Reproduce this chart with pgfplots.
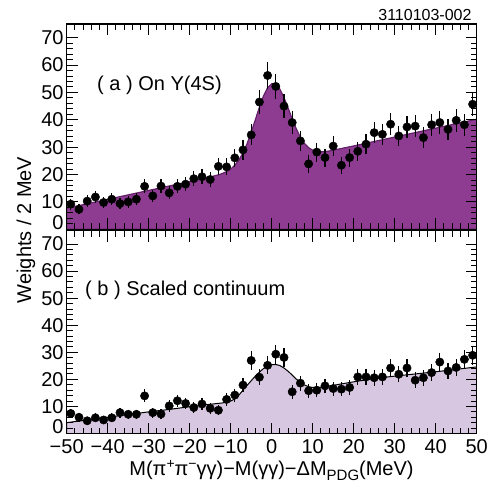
\documentclass[border=0pt]{standalone}
\usepackage{fontspec}
\setmainfont{Liberation Sans}
\usepackage{pgfplots}
\pgfplotsset{compat=1.18}
\usepackage{pgfplotstable}
\definecolor{topfill}{RGB}{142,60,145}
\definecolor{topline}{RGB}{100,32,105}
\definecolor{botfill}{RGB}{216,199,225}

\pgfplotstableread{
x y e
-49 9.2 2.0
-47 7.3 1.8
-45 10.3 2.1
-43 11.8 2.2
-41 9.8 2.0
-39 11.0 2.2
-37 9.4 2.0
-35 10.0 2.1
-33 11.0 2.2
-31 15.7 2.6
-29 12.2 2.3
-27 15.8 2.6
-25 13.3 2.4
-23 15.7 2.6
-21 16.5 2.6
-19 18.5 2.8
-17 19.2 2.8
-15 18.2 2.8
-13 23.0 3.1
-11 22.8 3.1
-9 26.1 3.3
-7 29.0 3.5
-5 34.5 3.8
-3 46.5 4.4
-1 56.2 4.9
1 52.2 4.7
3 45.0 4.4
5 39.0 4.1
7 32.3 3.7
9 23.9 3.2
11 28.2 3.5
13 26.2 3.3
15 30.4 3.6
17 23.4 3.1
19 26.2 3.3
21 28.5 3.5
23 31.1 3.6
25 35.3 3.9
27 34.7 3.8
29 38.4 4.0
31 34.1 3.8
33 37.4 4.0
35 37.7 4.0
37 33.5 3.8
39 38.2 4.0
41 39.0 4.1
43 36.5 3.9
45 39.8 4.1
47 38.2 4.0
49 45.7 4.4
}\topdata

\pgfplotstableread{
x y
-50 7.7
-40 10.95
-30 14.2
-20 17.45
-14 19.5
-13 19.9
-12 20.4
-11 21.1
-10 22.0
-9 23.4
-8 25.3
-7 27.9
-6 31.3
-5 35.4
-4 40.0
-3 44.6
-2 48.7
-1 51.7
0 53.2
1 53.0
2 51.2
3 48.1
4 44.3
5 40.3
6 36.7
7 33.6
8 31.4
9 29.8
10 28.9
11 28.4
12 28.3
13 28.4
14 28.6
20 30.45
30 33.7
40 36.95
50 40.2
}\topfit

\pgfplotstableread{
x y e
-49 7.4 1.8
-47 6.0 1.6
-45 4.7 1.4
-43 5.8 1.6
-41 5.0 1.5
-39 5.8 1.6
-37 7.7 1.8
-35 7.1 1.7
-33 7.1 1.7
-31 13.9 2.4
-29 7.7 1.8
-27 7.2 1.7
-25 10.2 2.1
-23 12.1 2.3
-21 11.1 2.2
-19 9.6 2.0
-17 10.9 2.1
-15 9.3 2.0
-13 8.6 1.9
-11 12.6 2.3
-9 14.2 2.4
-7 17.9 2.7
-5 27.0 3.4
-3 20.8 3.0
-1 25.2 3.3
1 29.3 3.5
3 28.1 3.4
5 15.4 2.6
7 18.6 2.8
9 15.8 2.6
11 16.0 2.6
13 17.6 2.7
15 16.6 2.6
17 16.4 2.6
19 17.0 2.7
21 20.9 3.0
23 20.9 3.0
25 20.6 3.0
27 20.9 3.0
29 24.2 3.2
31 21.9 3.0
33 24.2 3.2
35 19.7 2.9
37 20.6 3.0
39 22.5 3.1
41 26.4 3.3
43 23.1 3.1
45 24.4 3.2
47 27.4 3.4
49 28.9 3.5
}\botdata

\pgfplotstableread{
x y
-50 4.0
-45 5.0
-40 6.0
-35 7.0
-30 8.0
-25 8.9
-20 9.9
-15 10.8
-12 11.3
-11 11.6
-10 12.0
-9 12.8
-8 14.2
-7 16.0
-6 17.8
-5 19.5
-4 21.2
-3 22.7
-2 24.0
-1 24.9
0 25.4
1 25.5
2 25.1
3 24.2
4 23.0
5 21.6
6 20.1
7 18.9
8 17.9
9 17.3
10 17.0
11 17.0
12 17.1
13 17.3
15 17.8
20 19.1
25 20.3
30 21.2
35 22.0
40 22.8
45 23.7
50 24.6
}\botfit

\pgfplotsset{
  panel/.style={
    scale only axis, width=410pt,
    xmin=-50, xmax=50, ymin=0, ymax=75,
    xtick={-50,-40,...,50}, minor x tick num=4,
    ytick={0,10,...,70}, minor y tick num=4,
    yticklabels={,10,20,30,40,50,60,70},
    major tick length=11pt, minor tick length=6pt, tick align=inside,
    axis line style={line width=1.3pt},
    every tick/.append style={line width=1pt, black},
    tick label style={font=\fontsize{20}{24}\selectfont},
    yticklabel style={inner sep=3pt},
    xticklabel style={inner sep=3pt, yshift=-3pt},
    axis on top,
  },
  pts/.style={only marks, mark=*, mark size=4.2pt, black,
    error bars/.cd, y dir=both, y explicit, error mark=none,
    error bar style={line width=1.3pt, black}},
}

\begin{document}
\begin{tikzpicture}
\path[use as bounding box] (0pt,0pt) rectangle (495pt,-485pt);

\begin{axis}[panel, at={(66.7pt,-229.3pt)}, anchor=south west, height=205.3pt,
  xticklabels={}]
  \addplot[fill=topfill, draw=topline, line width=1.2pt] table[x=x,y=y]{\topfit} \closedcycle;
  \addplot[pts] table[x=x,y=y,y error=e]{\topdata};
\end{axis}

\begin{axis}[panel, at={(66.7pt,-433.5pt)}, anchor=south west, height=203pt,
  xticklabels={−50,−40,−30,−20,−10,0,10,20,30,40,50}]
  \addplot[fill=botfill, draw=black, line width=1pt] table[x=x,y=y]{\botfit} \closedcycle;
  \addplot[pts] table[x=x,y=y,y error=e]{\botdata};
\end{axis}

\node[anchor=east, inner sep=3pt, font=\fontsize{20}{24}\selectfont] at (66.7pt,-222.3pt) {0};
\node[anchor=east, inner sep=3pt, font=\fontsize{20}{24}\selectfont] at (66.7pt,-426.5pt) {0};

\node[anchor=base east, font=\fontsize{16}{19}\selectfont, inner sep=0pt] at (471.7pt,-20pt) {3110103-002};
\node[anchor=base west, font=\fontsize{20}{24}\selectfont, inner sep=0pt] at (97pt,-90pt) {( a ) On Υ(4S)};
\node[anchor=base west, font=\fontsize{20}{24}\selectfont, inner sep=0pt] at (85pt,-295pt) {( b ) Scaled continuum};
\node[anchor=base, font=\fontsize{20}{24}\selectfont, inner sep=0pt] at (271.5pt,-475pt)
  {M(π\raisebox{7pt}{\fontsize{14}{16}\selectfont +}π\raisebox{7pt}{\fontsize{14}{16}\selectfont −}γγ)−M(γγ)−ΔM\raisebox{-5pt}{\fontsize{15}{18}\selectfont PDG}(MeV)};
\node[anchor=base, rotate=90, font=\fontsize{20}{24}\selectfont, inner sep=0pt] at (31pt,-230pt) {Weights / 2 MeV};
\end{tikzpicture}
\end{document}
